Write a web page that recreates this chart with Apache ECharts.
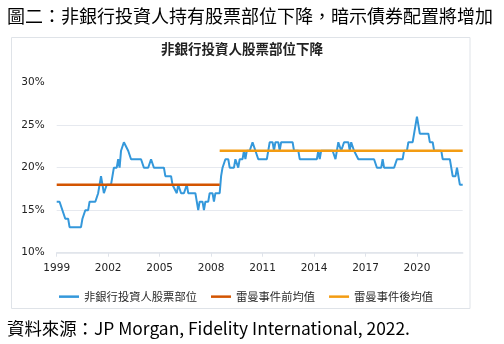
<!DOCTYPE html>
<html>
<head>
<meta charset="utf-8">
<script src="https://cdn.jsdelivr.net/npm/echarts@6/dist/echarts.min.js"></script>
<style>
html,body{margin:0;padding:0;background:#fff;}
#c{width:504px;height:344px;}
</style>
</head>
<body>
<div id="c"></div>
<script>
// x = months since Jan 1999, y = percent
const yearLabelsStart = 1999;
const seriesNames = ['非銀行投資人股票部位', '雷曼事件前均值', '雷曼事件後均值'];
const equityShare = [
  [0,16],[2,16],[4,15],[5,15],[6,14],[8,14],[9,13],[17,13],[18,14],[19,14],[20,15],[22,15],
  [23,16],[27,16],[29,17],[30,18],[31,19],[32,18],[33,17],[35,18],[38,18],[39,19],[40,20],
  [42,20],[43,21],[44,20],[45,22],[47,23],[48,23],[50,22],[51,22],[52,21],[59,21],[61,20],
  [64,20],[66,21],[67,21],[68,20],[75,20],[76,19],[80,19],[81,18],[84,17],[85,18],[87,17],
  [89,17],[91,18],[92,17],[97,17],[98,16],[99,15],[100,16],[102,16],[103,15],[104,16],[106,16],
  [107,17],[109,17],[110,16],[111,17],[114,17],[115,19],[116,20],[117,20],[118,21],[120,21],
  [121,20],[124,20],[125,21],[126,21],[127,20],[128,21],[130,21],[131,22],[132,21],[133,22],
  [135,22],[137,23],[139,22],[141,21],[147,21],[149,23],[151,23],[152,22],[153,23],[155,23],
  [156,22],[157,23],[165,23],[166,22],[169,22],[170,21],[182,21],[183,22],[184,21],[185,22],
  [193,22],[195,21],[197,23],[199,22],[200,22],[201,23],[204,23],[205,22],[206,23],[207,23],
  [208,22],[211,21],[222,21],[224,20],[227,20],[228,21],[229,20],[236,20],[238,21],[242,21],
  [243,22],[245,22],[246,23],[249,23],[252,26],[254,24],[260,24],[261,23],[263,23],[264,22],
  [269,22],[270,21],[275,21],[277,19],[279,19],[280,20],[282,18],[284,18]
];
const preLehmanAvg = [[0,18],[114,18]];
const postLehmanAvg = [[114,22],[284,22]];
const yTicks = [10, 15, 20, 25, 30];

const chart = echarts.init(document.getElementById('c'), null, {renderer:'canvas'});
const cjk = '"Noto Sans CJK TC","Noto Sans CJK SC",sans-serif';
chart.setOption({
  animation:false,
  backgroundColor:'#fff',
  graphic:[
    {type:'rect', shape:{x:11.5,y:37.5,width:458.5,height:271}, style:{fill:'none',stroke:'#dfe3e8',lineWidth:1}, silent:true, z:-1},
    {type:'text', x:7, y:16.5, style:{text:'圖二：非銀行投資人持有股票部位下降，暗示債券配置將增加', fontSize:18, fontFamily:cjk, fill:'#000', verticalAlign:'middle', align:'left'}},
    {type:'text', x:242, y:49, style:{text:'非銀行投資人股票部位下降', fontSize:13.5, fontWeight:'bold', fontFamily:cjk, fill:'#222', verticalAlign:'middle', align:'center'}},
    {type:'text', x:7, y:328, style:{text:'資料來源：JP Morgan, Fidelity International, 2022.', fontSize:17.4, fontFamily:cjk, fill:'#000', verticalAlign:'middle', align:'left'}}
  ],
  legend:{
    data:seriesNames,
    left:54, top:286,
    icon:'rect', itemWidth:20, itemHeight:2.5, itemGap:14,
    textStyle:{fontSize:11.3, fontFamily:cjk, color:'#2a2a2a'}
  },
  grid:{left:56.7, right:41.3, top:82.7, bottom:91.3, containLabel:false},
  xAxis:{
    type:'value', min:0, max:284, interval:36,
    axisLine:{show:true, lineStyle:{color:'#dfe3ea', width:1.5}},
    axisTick:{show:true, length:4, lineStyle:{color:'#dfe3ea'}},
    splitLine:{show:false},
    axisLabel:{margin:10, fontSize:10.5, fontFamily:'DejaVu Sans', color:'#222',
      formatter:v => String(yearLabelsStart + Math.round(v/12)), showMaxLabel:false}
  },
  yAxis:{
    type:'value', min:yTicks[0], max:yTicks[yTicks.length-1], interval:5,
    axisLine:{show:false}, axisTick:{show:false},
    splitLine:{show:true, showMaxLine:false, lineStyle:{color:'#e6e9ef', width:1}},
    axisLabel:{margin:12, fontSize:10.5, fontFamily:'DejaVu Sans', color:'#222', formatter:v => v + '%'}
  },
  series:[
    {name:seriesNames[0], type:'line', data:equityShare, showSymbol:false, symbol:'none',
      lineStyle:{color:'#3498db', width:2}, itemStyle:{color:'#3498db'}},
    {name:seriesNames[1], type:'line', data:preLehmanAvg, showSymbol:false, symbol:'none',
      lineStyle:{color:'#d35400', width:2.6}, itemStyle:{color:'#d35400'}},
    {name:seriesNames[2], type:'line', data:postLehmanAvg, showSymbol:false, symbol:'none',
      lineStyle:{color:'#f39c12', width:2.6}, itemStyle:{color:'#f39c12'}}
  ]
});
</script>
</body>
</html>
